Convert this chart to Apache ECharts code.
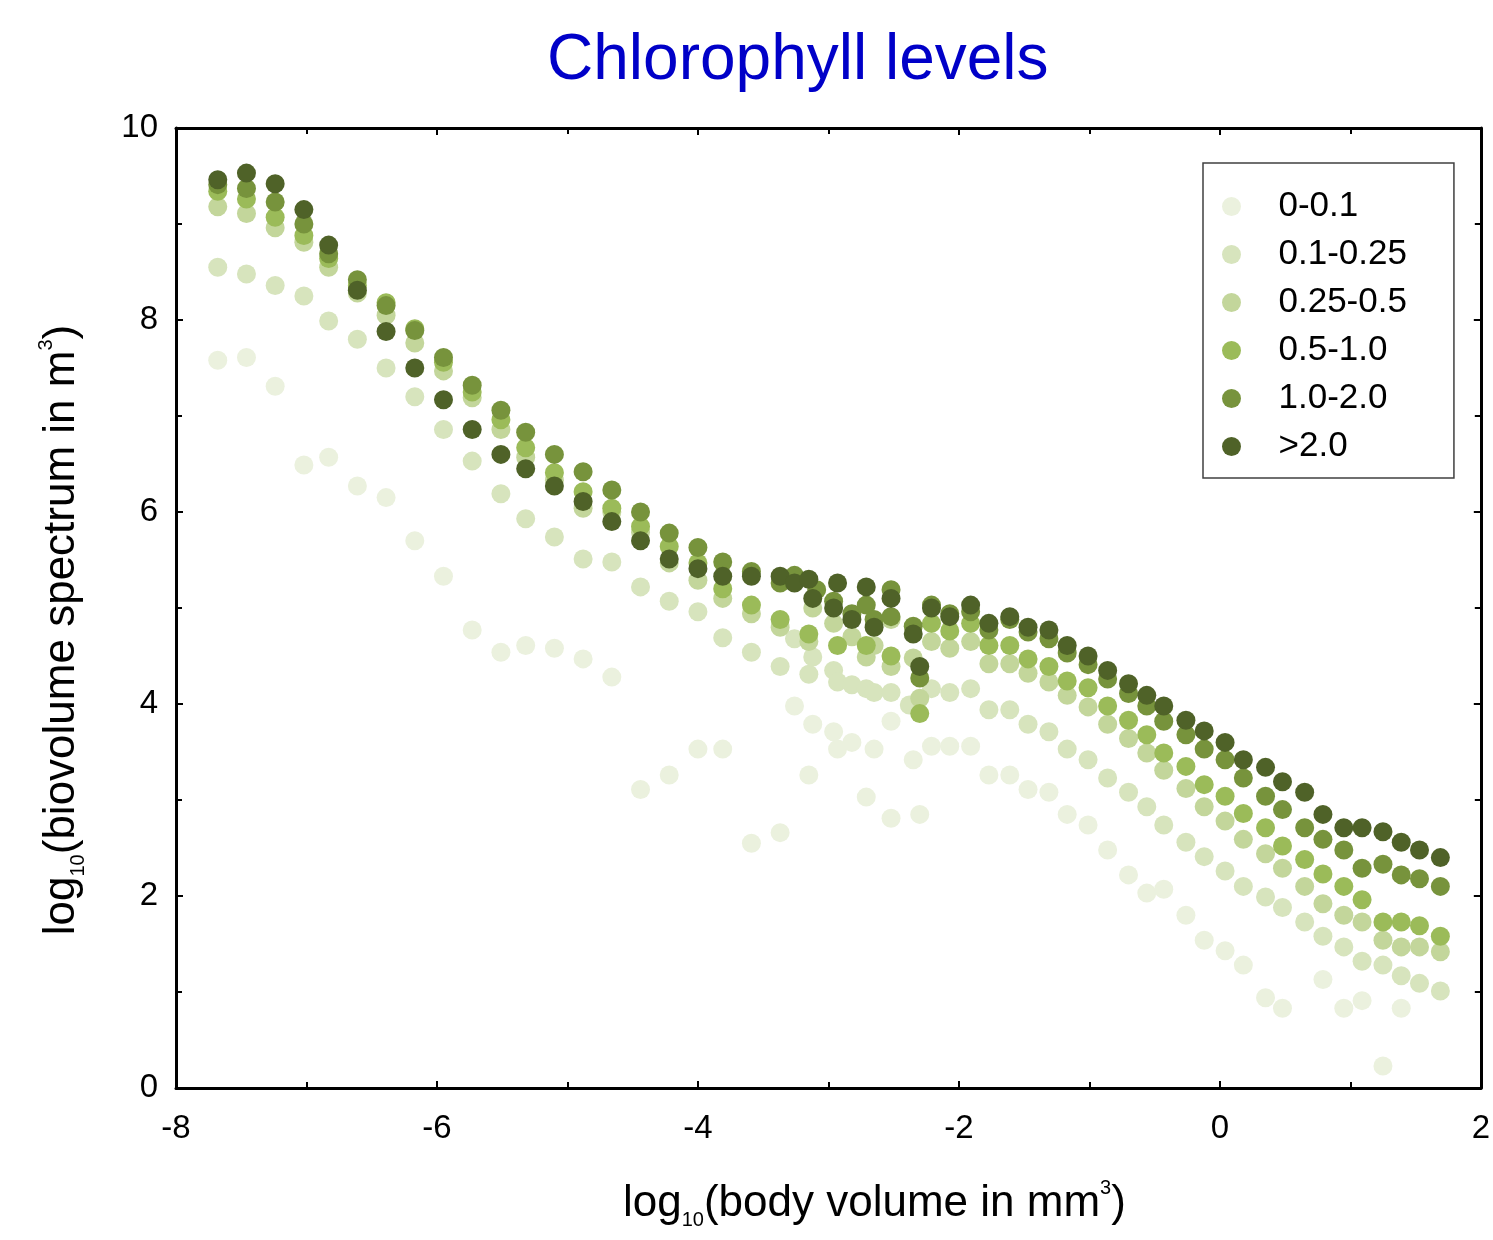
<!DOCTYPE html>
<html>
<head>
<meta charset="utf-8">
<script src="https://cdn.jsdelivr.net/npm/echarts@6/dist/echarts.min.js"></script>
<style>
  html, body { margin: 0; padding: 0; background: #fff; }
  #chart { width: 1493px; height: 1240px; }
</style>
</head>
<body>
<div id="chart"></div>
<script>
// chlorophyll classes and their colours
var classNames = ['0-0.1', '0.1-0.25', '0.25-0.5', '0.5-1.0', '1.0-2.0', '>2.0'];
var classColors = ['#ebf1de', '#d7e4bd', '#c3d69b', '#9bbb59', '#77933c', '#4f6228'];

var xTicks = [-8, -6, -4, -2, 0, 2];
var yTicks = [0, 2, 4, 6, 8, 10];

// [log10 body volume, log10 biovolume spectrum]
var chl0 = [
  [-7.68,7.58],[-7.46,7.61],[-7.24,7.31],[-7.02,6.49],[-6.83,6.57],[-6.61,6.27],[-6.39,6.15],[-6.17,5.70],
  [-5.95,5.33],[-5.73,4.77],[-5.51,4.54],[-5.32,4.61],[-5.10,4.58],[-4.88,4.47],[-4.66,4.28],[-4.44,3.11],
  [-4.22,3.26],[-4.00,3.53],[-3.81,3.53],[-3.59,2.55],[-3.37,2.66],[-3.26,3.98],[-3.15,3.26],[-3.12,3.79],
  [-2.96,3.71],[-2.93,3.53],[-2.82,3.60],[-2.71,3.03],[-2.65,3.53],[-2.52,3.82],[-2.52,2.81],[-2.35,3.42],
  [-2.30,2.85],[-2.21,3.56],[-2.07,3.56],[-1.91,3.56],[-1.77,3.26],[-1.61,3.26],[-1.47,3.11],[-1.31,3.08],
  [-1.17,2.85],[-1.01,2.74],[-0.86,2.48],[-0.70,2.22],[-0.56,2.03],[-0.43,2.07],[-0.26,1.80],[-0.12,1.54],
  [0.04,1.43],[0.18,1.28],[0.35,0.94],[0.48,0.83],[0.79,1.13],[0.95,0.83],[1.09,0.91],[1.25,0.23],[1.39,0.83]
];
var chl1 = [
  [-7.68,8.55],[-7.46,8.48],[-7.24,8.36],[-7.02,8.25],[-6.83,7.99],[-6.61,7.80],[-6.39,7.50],[-6.17,7.20],
  [-5.95,6.86],[-5.73,6.53],[-5.51,6.19],[-5.32,5.93],[-5.10,5.74],[-4.88,5.51],[-4.66,5.48],[-4.44,5.22],
  [-4.22,5.07],[-4.00,4.96],[-3.81,4.69],[-3.59,4.54],[-3.37,4.39],[-3.26,4.68],[-3.15,4.31],[-3.12,4.49],
  [-2.96,4.35],[-2.93,4.23],[-2.82,4.20],[-2.71,4.16],[-2.65,4.12],[-2.52,4.12],[-2.38,3.99],[-2.21,4.16],
  [-2.07,4.12],[-1.91,4.16],[-1.77,3.94],[-1.61,3.94],[-1.47,3.79],[-1.31,3.71],[-1.17,3.53],[-1.01,3.42],
  [-0.86,3.23],[-0.70,3.08],[-0.56,2.93],[-0.43,2.74],[-0.26,2.56],[-0.12,2.41],[0.04,2.26],[0.18,2.10],
  [0.35,1.99],[0.48,1.88],[0.65,1.73],[0.79,1.58],[0.95,1.47],[1.09,1.32],[1.25,1.28],[1.39,1.17],
  [1.53,1.09],[1.69,1.01]
];
var chl2 = [
  [-7.68,9.18],[-7.46,9.11],[-7.24,8.96],[-7.02,8.81],[-6.83,8.55],[-6.61,8.28],[-6.39,8.05],[-6.17,7.76],
  [-5.95,7.47],[-5.73,7.19],[-5.51,6.86],[-5.32,6.57],[-5.10,6.33],[-4.88,6.04],[-4.66,6.00],[-4.44,5.79],
  [-4.22,5.47],[-4.00,5.29],[-3.81,5.10],[-3.59,4.94],[-3.37,4.80],[-3.15,4.65],[-3.12,5.00],[-2.96,4.84],
  [-2.82,4.70],[-2.71,4.49],[-2.65,4.61],[-2.52,4.39],[-2.52,4.88],[-2.35,4.48],[-2.30,4.06],[-2.21,4.65],
  [-2.07,4.58],[-1.91,4.65],[-1.77,4.42],[-1.61,4.42],[-1.47,4.32],[-1.31,4.23],[-1.17,4.09],[-1.01,3.97],
  [-0.86,3.79],[-0.70,3.64],[-0.56,3.49],[-0.43,3.31],[-0.26,3.12],[-0.12,2.93],[0.04,2.78],[0.18,2.59],
  [0.35,2.44],[0.48,2.29],[0.65,2.10],[0.79,1.92],[0.95,1.80],[1.09,1.73],[1.25,1.54],[1.39,1.47],
  [1.53,1.47],[1.69,1.42]
];
var chl3 = [
  [-7.68,9.34],[-7.46,9.26],[-7.24,9.07],[-7.02,8.88],[-6.83,8.64],[-6.61,8.36],[-6.39,8.18],[-6.17,7.91],
  [-5.95,7.56],[-5.73,7.25],[-5.51,6.96],[-5.32,6.67],[-5.10,6.41],[-4.88,6.21],[-4.66,6.04],[-4.44,5.85],
  [-4.22,5.64],[-4.00,5.47],[-3.81,5.20],[-3.59,5.03],[-3.37,4.88],[-3.15,4.73],[-2.93,4.61],[-2.71,4.61],
  [-2.52,4.50],[-2.30,3.90],[-2.21,4.84],[-2.07,4.76],[-1.91,4.84],[-1.77,4.61],[-1.61,4.61],[-1.47,4.47],
  [-1.31,4.39],[-1.17,4.24],[-1.01,4.17],[-0.86,3.98],[-0.70,3.83],[-0.56,3.68],[-0.43,3.49],[-0.26,3.35],
  [-0.12,3.16],[0.04,3.04],[0.18,2.86],[0.35,2.71],[0.48,2.52],[0.65,2.38],[0.79,2.23],[0.95,2.10],
  [1.09,1.96],[1.25,1.73],[1.39,1.73],[1.53,1.69],[1.69,1.58]
];
var chl4 = [
  [-7.68,9.41],[-7.46,9.37],[-7.24,9.23],[-7.02,9.00],[-6.83,8.69],[-6.61,8.42],[-6.39,8.15],[-6.17,7.89],
  [-5.95,7.61],[-5.73,7.32],[-5.51,7.06],[-5.32,6.83],[-5.10,6.60],[-4.88,6.42],[-4.66,6.23],[-4.44,6.00],
  [-4.22,5.78],[-4.00,5.63],[-3.81,5.48],[-3.59,5.38],[-3.37,5.26],[-3.26,5.34],[-3.09,5.19],[-2.96,5.07],
  [-2.82,4.94],[-2.71,5.03],[-2.65,4.88],[-2.52,5.19],[-2.52,4.91],[-2.35,4.81],[-2.30,4.27],[-2.21,5.03],
  [-2.07,4.94],[-1.91,4.96],[-1.77,4.77],[-1.61,4.88],[-1.47,4.75],[-1.31,4.68],[-1.17,4.53],[-1.01,4.41],
  [-0.86,4.26],[-0.70,4.11],[-0.56,3.98],[-0.43,3.82],[-0.26,3.68],[-0.12,3.53],[0.04,3.42],[0.18,3.23],
  [0.35,3.04],[0.48,2.90],[0.65,2.71],[0.79,2.59],[0.95,2.48],[1.09,2.29],[1.25,2.33],[1.39,2.22],
  [1.53,2.18],[1.69,2.10]
];
var chl5 = [
  [-7.68,9.46],[-7.46,9.53],[-7.24,9.42],[-7.02,9.15],[-6.83,8.78],[-6.61,8.31],[-6.39,7.88],[-6.17,7.50],
  [-5.95,7.17],[-5.73,6.86],[-5.51,6.60],[-5.32,6.45],[-5.10,6.27],[-4.88,6.11],[-4.66,5.90],[-4.44,5.70],
  [-4.22,5.51],[-4.00,5.41],[-3.81,5.33],[-3.59,5.33],[-3.37,5.33],[-3.26,5.26],[-3.15,5.30],[-3.12,5.10],
  [-2.96,5.00],[-2.93,5.26],[-2.82,4.88],[-2.71,5.22],[-2.65,4.80],[-2.52,5.10],[-2.35,4.73],[-2.30,4.39],
  [-2.21,5.00],[-2.07,4.91],[-1.91,5.03],[-1.77,4.84],[-1.61,4.91],[-1.47,4.80],[-1.31,4.77],[-1.17,4.61],
  [-1.01,4.50],[-0.86,4.35],[-0.70,4.21],[-0.56,4.09],[-0.43,3.98],[-0.26,3.83],[-0.12,3.72],[0.04,3.60],
  [0.18,3.42],[0.35,3.34],[0.48,3.19],[0.65,3.08],[0.79,2.85],[0.95,2.71],[1.09,2.71],[1.25,2.67],
  [1.39,2.56],[1.53,2.48],[1.69,2.40]
];
var classData = [chl0, chl1, chl2, chl3, chl4, chl5];

var font = 'Liberation Sans, Arial, sans-serif';
var myChart = echarts.init(document.getElementById('chart'));

// rich text for the sub/superscripts in axis names
var nameRich = {
  n: { fontSize: 44, fontFamily: font, color: '#000', lineHeight: 52, verticalAlign: 'middle' },
  sub: { fontSize: 20, fontFamily: font, color: '#000', lineHeight: 20, verticalAlign: 'bottom' },
  sup: { fontSize: 20, fontFamily: font, color: '#000', lineHeight: 20, verticalAlign: 'top' }
};

function frameAxis(pos, min, max, interval, showLabel, extra) {
  var ax = {
    type: 'value',
    position: pos,
    min: min,
    max: max,
    interval: interval,
    splitLine: { show: false },
    axisLine: { show: true, onZero: false, lineStyle: { color: '#000', width: 3 } },
    axisTick: { show: true, inside: true, length: 7, lineStyle: { color: '#000', width: 2 } },
    minorTick: { show: true, splitNumber: 2, length: 6, lineStyle: { color: '#000', width: 2 } },
    axisLabel: { show: showLabel, color: '#000', fontSize: 33, fontFamily: font }
  };
  return Object.assign(ax, extra || {});
}

var series = classNames.map(function (name, i) {
  return {
    name: name,
    type: 'scatter',
    xAxisIndex: 0,
    yAxisIndex: 0,
    symbol: 'circle',
    symbolSize: 19,
    itemStyle: { color: classColors[i], opacity: 1 },
    emphasis: { disabled: true },
    z: 2 + i,
    data: classData[i]
  };
});

var option = {
  backgroundColor: '#fff',
  animation: false,
  title: {
    text: 'Chlorophyll levels',
    left: 542,
    top: 24,
    textStyle: { color: '#0000c8', fontSize: 64, fontWeight: 'normal', fontFamily: font }
  },
  legend: {
    orient: 'vertical',
    left: 1203,
    top: 163,
    padding: [26, 47, 14, 19],
    itemGap: 13,
    itemWidth: 28,
    itemHeight: 19,
    icon: 'circle',
    borderColor: '#404040',
    borderWidth: 1.5,
    borderRadius: 0,
    data: classNames,
    textStyle: { color: '#000', fontSize: 35, fontFamily: font, lineHeight: 33, padding: [0, 0, 0, 28] }
  },
  grid: { left: 176, right: 3, top: 128, bottom: 152, containLabel: false },
  xAxis: [
    frameAxis('bottom', xTicks[0], xTicks[xTicks.length - 1], 2, true, {
      name: '{n|log}{sub|10}{n|(body volume in mm}{sup|3}{n|)}',
      nameLocation: 'middle',
      nameGap: 90,
      nameTextStyle: { rich: nameRich, padding: [0, 0, 0, 92] },
      axisLabel: { show: true, color: '#000', fontSize: 33, fontFamily: font, margin: 24 }
    }),
    frameAxis('top', xTicks[0], xTicks[xTicks.length - 1], 2, false)
  ],
  yAxis: [
    frameAxis('left', yTicks[0], yTicks[yTicks.length - 1], 2, true, {
      name: '{n|log}{sub|10}{n|(biovolume spectrum in m}{sup|3}{n|)}',
      nameLocation: 'middle',
      nameGap: 88,
      nameRotate: 90,
      nameTextStyle: { rich: nameRich, padding: [0, 44, 0, 0] },
      axisLabel: { show: true, color: '#000', fontSize: 33, fontFamily: font, margin: 18 }
    }),
    frameAxis('right', yTicks[0], yTicks[yTicks.length - 1], 2, false)
  ],
  series: series
};

myChart.setOption(option);
</script>
</body>
</html>
